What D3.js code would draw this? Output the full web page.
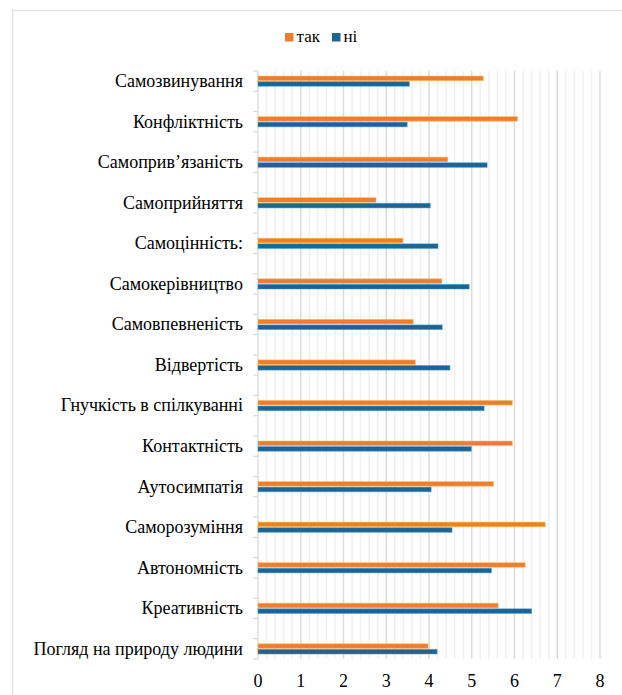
<!DOCTYPE html>
<html><head><meta charset="utf-8">
<script src="https://cdn.jsdelivr.net/npm/d3@7"></script>
<style>body{margin:0;background:#fff}svg{display:block}svg text{font-family:"Liberation Serif","Tinos","DejaVu Serif","Times New Roman",serif}</style>
</head><body>
<svg id="c" width="622" height="695"></svg>
<script>
const categories = ["Самозвинування","Конфліктність","Самоприв’язаність","Самоприйняття","Самоцінність:","Самокерівництво","Самовпевненість","Відвертість","Гнучкість в спілкуванні","Контактність","Аутосимпатія","Саморозуміння","Автономність","Креативність","Погляд на природу людини"];
const seriesNames = ["так","ні"];
const tak = [5.27,6.07,4.44,2.76,3.39,4.30,3.63,3.68,5.95,5.95,5.51,6.72,6.25,5.62,3.98];
const ni  = [3.54,3.49,5.36,4.03,4.21,4.94,4.31,4.49,5.29,4.99,4.05,4.54,5.46,6.40,4.19];
const xTicks = [0,1,2,3,4,5,6,7,8];
const colors = ["#ED7D31","#1F6390"];

(function(){
const svg = d3.select("#c");
svg.append("path").attr("d","M12.5,700 V10.5 H630").attr("fill","none").attr("stroke","#e3e3e3").attr("stroke-width",1.5);

const pL = 258, pR = 600, pT = 71, pB = 659;
const x = d3.scaleLinear().domain([0,8]).range([pL,pR]);
const slots = d3.range(categories.length*2-1);
const y = d3.scaleBand().domain(slots).range([pT,pB]).paddingInner(0).paddingOuter(0);

const minor = d3.range(0,8.0001,0.2).filter(v=>Math.abs(v-Math.round(v))>1e-6);
svg.append("g").selectAll("line").data(minor).join("line")
  .attr("x1",d=>x(d)).attr("x2",d=>x(d)).attr("y1",pT).attr("y2",pB)
  .attr("stroke","#f0f0f0").attr("stroke-width",1.5);
svg.append("g").selectAll("line").data(xTicks.slice(1)).join("line")
  .attr("x1",d=>x(d)).attr("x2",d=>x(d)).attr("y1",pT).attr("y2",pB)
  .attr("stroke","#dcdcdc").attr("stroke-width",1.5);

const bounds = d3.range(slots.length+1).map(i=>pT+i*y.step());
const ax = svg.append("g");
ax.append("line").attr("x1",pL).attr("x2",pL).attr("y1",pT).attr("y2",pB).attr("stroke","#d9d9d9").attr("stroke-width",1.2);
ax.selectAll("line.t").data(bounds).join("line").attr("class","t")
  .attr("x1",pL-5).attr("x2",pL).attr("y1",d=>d).attr("y2",d=>d)
  .attr("stroke","#d9d9d9").attr("stroke-width",1.2);

const bh = 4.6;
const g = svg.append("g");
categories.forEach((c,i)=>{
  const cy = y(i*2) + y.bandwidth()/2;
  [tak[i],ni[i]].forEach((v,k)=>{
    g.append("rect")
      .attr("x",x(0)).attr("y", k===0 ? cy-bh-0.5 : cy+0.5)
      .attr("width",x(v)-x(0)).attr("height",bh)
      .attr("fill",colors[k])
      .attr("stroke",d3.color(colors[k]).brighter(1.2)).attr("stroke-opacity",0.5).attr("stroke-width",1);
  });
  svg.append("text").attr("x",243).attr("y",cy).attr("dy","0.33em")
    .attr("text-anchor","end").attr("font-size",18)
    .attr("fill","#000").text(c);
});

svg.append("g").selectAll("text").data(xTicks).join("text")
  .attr("x",d=>x(d)).attr("y",687).attr("text-anchor","middle")
  .attr("font-size",18).attr("fill","#000").text(d=>d);

const lg = svg.append("g");
const lx = [285,332];
seriesNames.forEach((s,k)=>{
  lg.append("rect").attr("x",lx[k]).attr("y",33).attr("width",8.5).attr("height",8.5).attr("fill",colors[k]);
  lg.append("text").attr("x",lx[k]+11.5).attr("y",42).attr("font-size",17).attr("fill","#000").text(s);
});
})();
</script>
</body></html>
